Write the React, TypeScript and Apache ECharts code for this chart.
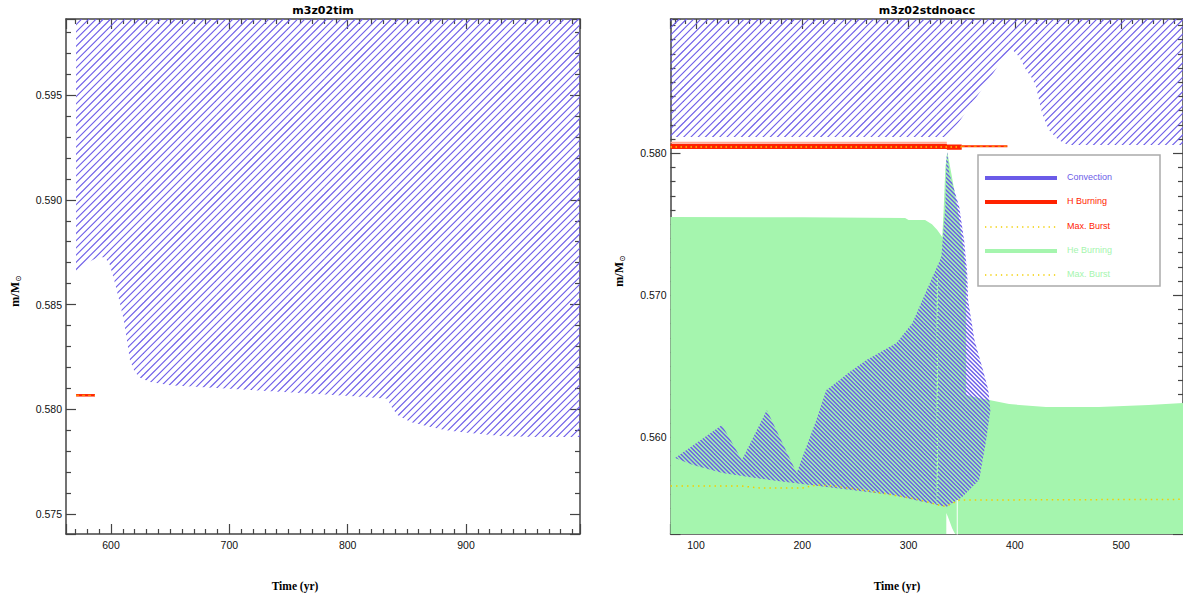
import React, { useEffect, useRef } from 'react';
import * as echarts from 'echarts';

const BLUE = '#6b5be8';
const RED = '#ff2200';
const PINK = '#ffab98';
const GREEN = '#a5f5ae';
const YELLOW = '#f2cf00';
const ORANGE = '#ffa000';
const AX = '#444444';

// ---------- Left panel: m3z02tim ----------
const leftTitle = 'm3z02tim';
const leftXMin = 562;
const leftXMax = 996.3;
const leftYMin = 0.57405;
const leftYMax = 0.59863;
// lower edge of the convective (hatched) region
const leftConvT = [570.5, 576, 582, 587, 591, 595, 599, 603, 607, 611, 616, 620, 625, 633, 650, 675, 718, 760, 802, 834, 836, 842, 853, 870, 882, 895, 912, 930, 960, 997];
const leftConvM = [0.58641, 0.5868, 0.58705, 0.5872, 0.58727, 0.58725, 0.5869, 0.5861, 0.5852, 0.5842, 0.58236, 0.58178, 0.5815, 0.5813, 0.58115, 0.58107, 0.58092, 0.58078, 0.58064, 0.5805, 0.5802, 0.57973, 0.57939, 0.57916, 0.57901, 0.57892, 0.57882, 0.57873, 0.57868, 0.57868];
// H burning (short)
const leftHT = [570.5, 586.5];
const leftHM = [0.58067, 0.58067];

// ---------- Right panel: m3z02stdnoacc ----------
const rightTitle = 'm3z02stdnoacc';
const rightXMin = 76;
const rightXMax = 558.2;
const rightYMin = 0.55319;
const rightYMax = 0.58946;
// lower edge of outer convective envelope (hatched at top)
const envT = [76, 336, 340, 352, 366, 380, 390, 397, 404, 410.5, 416, 420, 425.5, 432, 441, 450, 558.5];
const envM = [0.58115, 0.58115, 0.58144, 0.5827, 0.5842, 0.5857, 0.5868, 0.58735, 0.5868, 0.58587, 0.5853, 0.58467, 0.58284, 0.58164, 0.58094, 0.58058, 0.58058];
// H burning band
const hBandT = [76, 336, 336, 350];
const hBandTop = [0.58068, 0.58068, 0.58062, 0.58062];
const hBandBot = [0.5803, 0.5803, 0.58025, 0.58025];
const hEdgeT = [76, 336];
const hEdgeM = [0.58076, 0.58076];
const hTailT = [350, 393];
const hTailM = [0.5805, 0.5805];
const hMaxT = [76, 350];
const hMaxM = [0.58044, 0.58044];
// He burning region (top edge)
const heTopT = [76, 200, 296.7, 300, 315.5, 322, 327, 331.7, 333, 334.6, 336.4, 340.2, 345.8, 350.5, 354.2, 354.2, 366.4, 375.8, 394.6, 429.3, 479, 525.9, 558.5];
const heTopM = [0.57551, 0.57549, 0.57544, 0.5753, 0.5753, 0.575, 0.5746, 0.57411, 0.576, 0.579, 0.58009, 0.5786, 0.57622, 0.57389, 0.57157, 0.56298, 0.56277, 0.56263, 0.56234, 0.56213, 0.56213, 0.56227, 0.56241];
const heBottom = 0.553;
// white notch at the bottom
const notchT = [335.5, 335.5, 337, 339, 341, 343, 345.5];
const notchM = [0.553, 0.55467, 0.5544, 0.554, 0.5536, 0.5533, 0.553];
// convective shell inside He burning region (closed outline)
const shellT = [80.3, 124.4, 143.2, 166.6, 194.7, 200.4, 213.2, 222.6, 226, 244.5, 260.4, 288.6, 303.6, 313, 324.2, 330.8, 334.6, 335.5, 336.4,
  338.3, 347.7, 352.3, 355.2, 356, 362, 370, 375, 377, 373, 366.4, 350.5, 335.5,
  284.8, 222.9, 169.4, 125, 97.2, 80.3];
const shellM = [0.55855, 0.56087, 0.55841, 0.56192, 0.55749, 0.55864, 0.56122, 0.56333, 0.5635, 0.5646, 0.56545, 0.56664, 0.56805, 0.56967, 0.57157, 0.5727, 0.5762, 0.5795, 0.58009,
  0.57862, 0.57622, 0.57385, 0.57157, 0.56967, 0.56685, 0.56474, 0.56333, 0.56192, 0.55981, 0.55699, 0.5558, 0.55509,
  0.55594, 0.5565, 0.55699, 0.55749, 0.55805, 0.55855];
// He max burst (dotted)
const heMaxT = [76, 143, 160, 200, 213.5, 230, 260, 284.8, 310, 331.7, 336, 347.7, 558.5];
const heMaxM = [0.55657, 0.55657, 0.55643, 0.55643, 0.55664, 0.55657, 0.55625, 0.55594, 0.5556, 0.55516, 0.55516, 0.55558, 0.55563];
const gapT = [327, 327];
const gapM = [0.5553, 0.5714];
const slitT = [345.8, 345.8];
const slitM = [0.553, 0.5556];

// legend
const legendNames = ['Convection', 'H Burning', 'Max. Burst', 'He Burning', 'Max. Burst'];
const legendLineColors = [BLUE, RED, YELLOW, GREEN, YELLOW];
const legendTextColors = [BLUE, RED, RED, GREEN, GREEN];
const legendDotted = [false, false, true, false, true];

const zip = (a: number[], b: number[]) => a.map((v, i) => [v, b[i]]);

function makeHatch(step: number, n: number, dir: number, color: string, lw: number) {
  const size = Math.round(step * n);
  const c = document.createElement('canvas');
  c.width = size;
  c.height = size;
  const ctx = c.getContext('2d') as CanvasRenderingContext2D;
  ctx.strokeStyle = color;
  ctx.lineWidth = lw;
  for (let k = -3 * n; k <= 3 * n; k++) {
    const off = k * step;
    ctx.beginPath();
    if (dir > 0) {
      ctx.moveTo(off + size, -size);
      ctx.lineTo(off - 2 * size, 2 * size);
    } else {
      ctx.moveTo(off - size, -size);
      ctx.lineTo(off + 2 * size, 2 * size);
    }
    ctx.stroke();
  }
  return { image: c, repeat: 'repeat', imageWidth: size, imageHeight: size };
}

function polySeries(xi: number, yi: number, pts: number[][], fill: any, z: number) {
  return {
    type: 'custom',
    xAxisIndex: xi,
    yAxisIndex: yi,
    clip: true,
    silent: true,
    z,
    data: [pts[0]],
    renderItem: (_p: any, api: any) => ({
      type: 'polygon',
      shape: { points: pts.map((p) => api.coord(p)) },
      style: { fill, stroke: null },
    }),
  };
}

function lineSeries(xi: number, yi: number, ts: number[], ms: number[], color: string, width: number, type: any, z: number) {
  return {
    type: 'line',
    xAxisIndex: xi,
    yAxisIndex: yi,
    data: zip(ts, ms),
    showSymbol: false,
    symbol: 'none',
    silent: true,
    clip: true,
    z,
    lineStyle: { color, width, type, cap: 'butt' },
  };
}

function xAxisCfg(gridIndex: number, min: number, max: number, position: string, showLabel: boolean) {
  return {
    type: 'value',
    gridIndex,
    min,
    max,
    position,
    axisLine: { show: true, onZero: false, lineStyle: { color: AX, width: 1.5 } },
    axisTick: { show: true, inside: true, length: 10, lineStyle: { color: AX, width: 1.2 } },
    minorTick: { show: true, splitNumber: 10, length: 5, lineStyle: { color: AX, width: 1.2 } },
    axisLabel: {
      show: showLabel,
      showMinLabel: false,
      showMaxLabel: false,
      margin: 5,
      color: '#111',
      fontSize: 10.5,
      fontFamily: 'Liberation Sans',
      formatter: (v: number) => String(Math.round(v)),
    },
    splitLine: { show: false },
  };
}

function yAxisCfg(gridIndex: number, min: number, max: number, position: string, showLabel: boolean, minorSplit: number) {
  return {
    type: 'value',
    gridIndex,
    min,
    max,
    position,
    axisLine: { show: true, onZero: false, lineStyle: { color: AX, width: 1.5 } },
    axisTick: { show: true, inside: true, length: 10, lineStyle: { color: AX, width: 1.2 } },
    minorTick: { show: true, splitNumber: minorSplit, length: 5, lineStyle: { color: AX, width: 1.2 } },
    axisLabel: {
      show: showLabel,
      showMinLabel: false,
      showMaxLabel: false,
      margin: 4,
      color: '#111',
      fontSize: 10.5,
      fontFamily: 'Liberation Sans',
      formatter: (v: number) => v.toFixed(3),
    },
    splitLine: { show: false },
  };
}

export default function App() {
  const ref = useRef<HTMLDivElement>(null);
  useEffect(() => {
    if (!ref.current) return;
    const chart = echarts.init(ref.current, undefined, { renderer: 'svg' });
    const hatchUp = makeHatch(7.2, 5, 1, BLUE, 1.1);
    const hatchDown = makeHatch(4.2, 10, -1, BLUE, 1.4);

    const leftConvPoly = [[leftConvT[0], 0.6], ...zip(leftConvT, leftConvM), [leftConvT[leftConvT.length - 1], 0.6]];
    const envPoly = [[envT[0], 0.6], ...zip(envT, envM), [envT[envT.length - 1], 0.6]];
    const hBandPoly = [...zip(hBandT, hBandTop), ...zip(hBandT, hBandBot).reverse()];
    const hePoly = [[heTopT[0], heBottom], ...zip(heTopT, heTopM), [heTopT[heTopT.length - 1], heBottom]];
    const notchPoly = zip(notchT, notchM);
    const shellPoly = zip(shellT, shellM);

    const nameRich = {
      a: { fontSize: 12, fontWeight: 'bold', fontFamily: 'Liberation Serif', fill: '#000', color: '#000' },
      b: { fontSize: 8, fontFamily: 'DejaVu Sans', fill: '#000', color: '#000', padding: [6, 0, 0, 0] },
    };
    const legendTop = 155;
    const legendRows = [178, 202, 227, 251, 275];
    const graphic: any[] = [
      { type: 'text', x: 323, y: 10, z: 100, style: { text: leftTitle, fill: '#000', fontSize: 11, fontWeight: 'bold', fontFamily: 'DejaVu Sans', align: 'center', verticalAlign: 'middle' } },
      { type: 'text', x: 927, y: 10, z: 100, style: { text: rightTitle, fill: '#000', fontSize: 11, fontWeight: 'bold', fontFamily: 'DejaVu Sans', align: 'center', verticalAlign: 'middle' } },
      { type: 'text', x: 295, y: 586, z: 100, style: { text: 'Time (yr)', fill: '#000', fontSize: 11.5, fontWeight: 'bold', fontFamily: 'Liberation Serif', align: 'center', verticalAlign: 'middle' } },
      { type: 'text', x: 897, y: 586, z: 100, style: { text: 'Time (yr)', fill: '#000', fontSize: 11.5, fontWeight: 'bold', fontFamily: 'Liberation Serif', align: 'center', verticalAlign: 'middle' } },
      { type: 'text', x: 15, y: 291, rotation: Math.PI / 2, z: 100, style: { text: '{a|m/M}{b|⊙}', align: 'center', verticalAlign: 'middle', rich: nameRich } },
      { type: 'text', x: 619, y: 271, rotation: Math.PI / 2, z: 100, style: { text: '{a|m/M}{b|⊙}', align: 'center', verticalAlign: 'middle', rich: nameRich } },
      { type: 'rect', z: 100, shape: { x: 978, y: legendTop, width: 182, height: 131 }, style: { fill: '#fff', stroke: '#aaaaaa', lineWidth: 1.5 } },
    ];
    legendNames.forEach((name, i) => {
      const y = legendRows[i];
      graphic.push({
        type: 'line', z: 101,
        shape: { x1: 985, y1: y, x2: 1057, y2: y },
        style: legendDotted[i]
          ? { stroke: legendLineColors[i], lineWidth: 1.3, lineDash: [1.3, 4] }
          : { stroke: legendLineColors[i], lineWidth: 4 },
      });
      graphic.push({
        type: 'text', z: 101, x: 1067, y: y - 1,
        style: { text: name, fill: legendTextColors[i], fontSize: 9, fontFamily: 'Liberation Sans', align: 'left', verticalAlign: 'middle' },
      });
    });

    chart.setOption({
      animation: false,
      backgroundColor: '#ffffff',
      grid: [
        { left: 66, top: 19, width: 514, height: 515, containLabel: false },
        { left: 670.5, top: 19, width: 514, height: 515, containLabel: false },
      ],
      xAxis: [
        xAxisCfg(0, leftXMin, leftXMax, 'bottom', true),
        xAxisCfg(0, leftXMin, leftXMax, 'top', false),
        xAxisCfg(1, rightXMin, rightXMax, 'bottom', true),
        xAxisCfg(1, rightXMin, rightXMax, 'top', false),
      ],
      yAxis: [
        yAxisCfg(0, leftYMin, leftYMax, 'left', true, 5),
        yAxisCfg(0, leftYMin, leftYMax, 'right', false, 5),
        yAxisCfg(1, rightYMin, rightYMax, 'left', true, 10),
        yAxisCfg(1, rightYMin, rightYMax, 'right', false, 10),
      ],
      graphic,
      series: [
        // left panel
        polySeries(0, 0, leftConvPoly, hatchUp, 2),
        lineSeries(0, 0, leftHT, leftHM, RED, 2.5, 'solid', 3),
        lineSeries(0, 0, leftHT, leftHM, ORANGE, 1, [3, 3], 4),
        // right panel
        polySeries(2, 2, hePoly, GREEN, 2),
        polySeries(2, 2, notchPoly, '#ffffff', 3),
        lineSeries(2, 2, slitT, slitM, '#ffffff', 1, 'solid', 3),
        polySeries(2, 2, shellPoly, hatchDown, 4),
        lineSeries(2, 2, gapT, gapM, GREEN, 1.5, [2, 2], 5),
        lineSeries(2, 2, heMaxT, heMaxM, YELLOW, 1.5, [1.5, 4], 6),
        polySeries(2, 2, envPoly, hatchUp, 4),
        lineSeries(2, 2, hEdgeT, hEdgeM, PINK, 1.5, 'solid', 5),
        polySeries(2, 2, hBandPoly, RED, 6),
        lineSeries(2, 2, hTailT, hTailM, RED, 2, 'solid', 6),
        lineSeries(2, 2, hTailT, hTailM, ORANGE, 1, [3, 3], 7),
        lineSeries(2, 2, hMaxT, hMaxM, YELLOW, 1.5, [1.5, 3.5], 7),
      ],
    });
    return () => chart.dispose();
  }, []);
  return <div ref={ref} style={{ position: 'fixed', left: 0, top: 0, width: 1183, height: 596, background: '#fff' }} />;
}
